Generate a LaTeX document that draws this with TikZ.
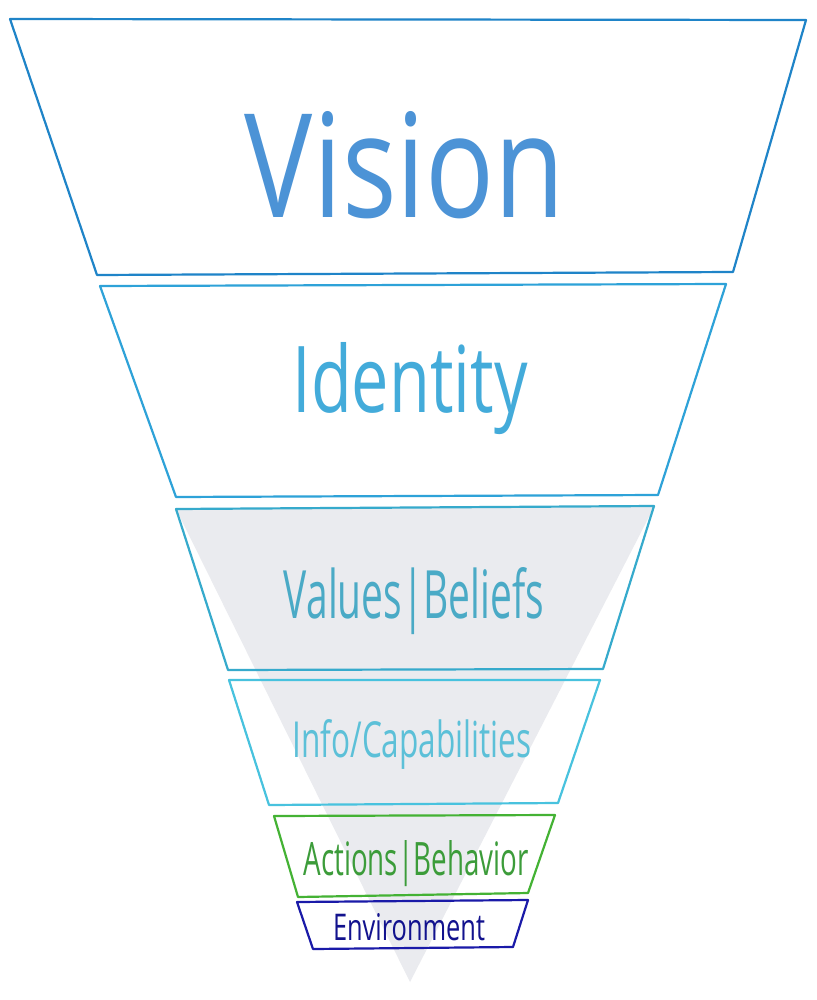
\documentclass[tikz,border=0pt]{standalone}
\usepackage{fontspec}
\setmainfont{Open Sans}
\usepackage{graphicx}
\definecolor{visionline}{HTML}{1F84C8}
\definecolor{visiontext}{HTML}{4C93D6}
\definecolor{identline}{HTML}{2EA2D8}
\definecolor{identtext}{HTML}{43ABDA}
\definecolor{valueline}{HTML}{36AACC}
\definecolor{valuetext}{HTML}{4AAAC6}
\definecolor{infoline}{HTML}{48C2DE}
\definecolor{infotext}{HTML}{5CC0D8}
\definecolor{actline}{HTML}{44B234}
\definecolor{acttext}{HTML}{3C9C3A}
\definecolor{envline}{HTML}{1A1AA8}
\definecolor{envtext}{HTML}{12128E}
\definecolor{funnelgray}{HTML}{EAEBEF}
\tikzset{layer/.style={line width=2.2pt, line join=round, line cap=round},
	hand/.style={inner sep=0pt, anchor=base}}
\def\handtext(#1:#2)#3{\resizebox{#1pt}{#2pt}{#3}}

\begin{document}
\begin{tikzpicture}[x=1pt,y=-1pt]
		%%%%% START %%%%%
		\useasboundingbox (0,0) rectangle (816,1000);
		\fill[white] (0,0) rectangle (816,1000);
		
		\fill[funnelgray] (176,509) -- (654,507) -- (410,982) -- cycle;
		
		\draw[layer, color=visionline] (10,19) -- (806,20) -- (733,272) -- (97,275) -- cycle;
		\node[hand, text=visiontext] (vision) at (405,218) {\handtext(320:106){Vision}};
		
		\draw[layer, color=identline] (100,286) -- (726,284) -- (658,495) -- (176,497) -- cycle;
		\node[hand, text=identtext] (identity) at (410,412) {\handtext(235:70){Identity}};
		
		\draw[layer, color=valueline] (176,509) -- (654,506) -- (603,669) -- (228,670) -- cycle;
		\node[hand, text=valuetext] (values) at (414,618) {\handtext(260:51){Values|Beliefs}};
		
		\draw[layer, color=infoline] (229,680) -- (600,680) -- (558,803) -- (269,805) -- cycle;
		\node[hand, text=infotext] (info) at (412,757) {\handtext(239:38){Info/Capabilities}};
		
		\draw[layer, color=actline] (274,816) -- (555,815) -- (528,893) -- (298,897) -- cycle;
		\node[hand, text=acttext] (actions) at (416,875) {\handtext(225:35){Actions|Behavior}};
		
		\draw[layer, color=envline] (297,902) -- (528,900) -- (513,947) -- (313,949) -- cycle;
		\node[hand, text=envtext] (environment) at (409,940) {\handtext(152:27){Environment}};
		%%%%% END %%%%%
\end{tikzpicture}
\end{document}
